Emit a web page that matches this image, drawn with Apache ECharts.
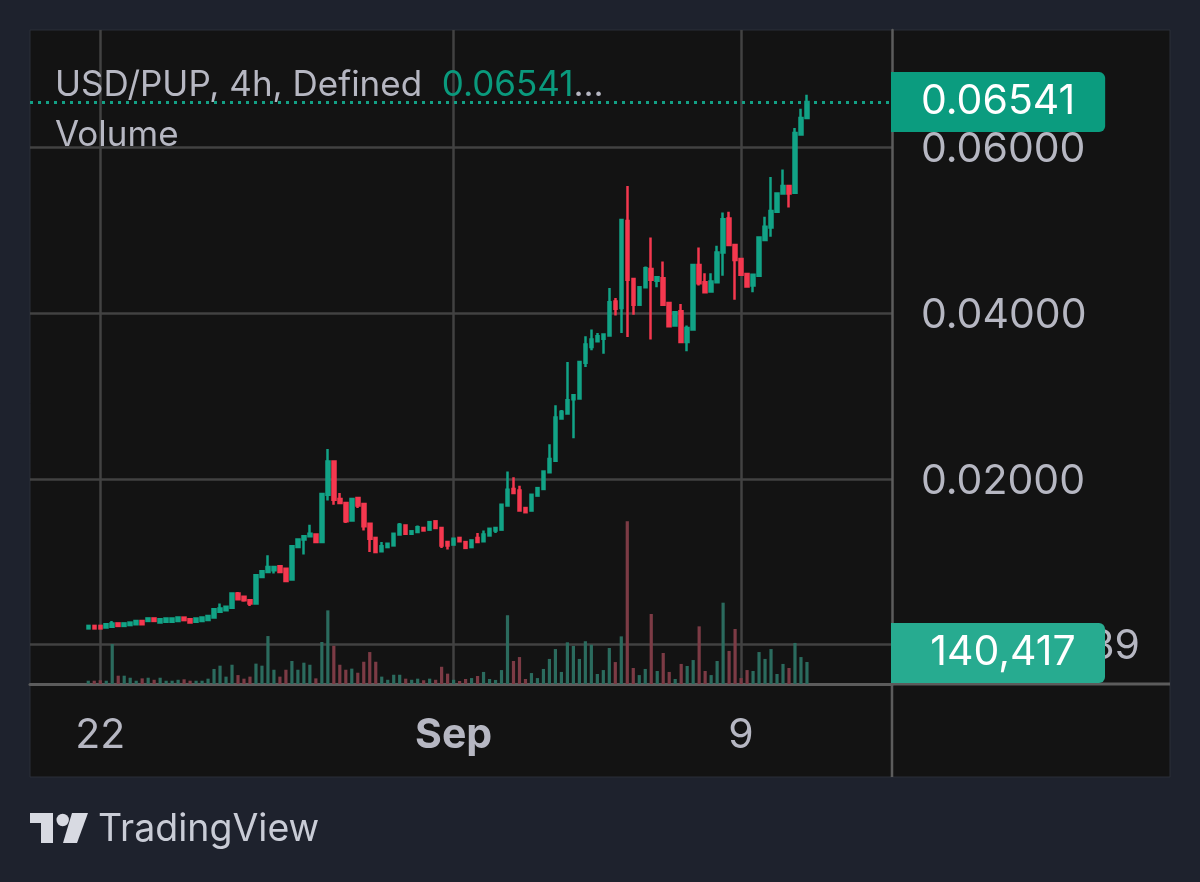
<!DOCTYPE html>
<html>
<head>
<meta charset="utf-8">
<style>
  html, body { margin: 0; padding: 0; background: #1e222d; }
  #chart { width: 1200px; height: 882px; }
</style>
<script src="https://cdn.jsdelivr.net/npm/echarts@6/dist/echarts.min.js"></script>
</head>
<body>
<div id="chart"></div>
<script>
// 4h candles, oldest first
const opens = [
  .0020,.0023,.0023,.0021,.0022,.0026,.0023,.0024,.0025,.0029,
  .0029,.0032,.0027,.0028,.0028,.0029,.0033,.0031,.0028,.0029,
  .0030,.0033,.0040,.0042,.0045,.0062,.0058,.0054,.0050,.0082,
  .0088,.0090,.0095,.0092,.0079,.0118,.0127,.0131,.0133,.0124,
  .0181,.0221,.0176,.0171,.0150,.0177,.0170,.0146,.0129,.0113,
  .0118,.0120,.0133,.0144,.0134,.0136,.0141,.0139,.0149,.0141,
  .0124,.0121,.0129,.0124,.0118,.0129,.0125,.0132,.0138,.0139,
  .0168,.0188,.0186,.0165,.0162,.0180,.0188,.0208,.0222,.0273,
  .0279,.0296,.0297,.0340,.0359,.0366,.0369,.0373,.0414,.0406,
  .0511,.0441,.0410,.0431,.0453,.0439,.0442,.0412,.0385,.0402,
  .0365,.0380,.0458,.0437,.0426,.0437,.0473,.0514,.0482,.0465,
  .0447,.0433,.0445,.0488,.0503,.0522,.0544,.0553,.0545,.0615,
  .0635
];
const closes = [
  .0023,.0020,.0020,.0025,.0026,.0023,.0026,.0027,.0029,.0025,
  .0032,.0029,.0031,.0032,.0032,.0033,.0030,.0027,.0032,.0033,
  .0035,.0043,.0044,.0046,.0062,.0055,.0054,.0050,.0084,.0089,
  .0094,.0094,.0088,.0077,.0119,.0127,.0131,.0134,.0124,.0182,
  .0221,.0175,.0171,.0149,.0176,.0168,.0143,.0128,.0112,.0119,
  .0122,.0134,.0145,.0134,.0137,.0142,.0138,.0148,.0141,.0120,
  .0120,.0128,.0125,.0117,.0126,.0124,.0133,.0140,.0141,.0169,
  .0187,.0183,.0162,.0160,.0181,.0189,.0209,.0224,.0274,.0281,
  .0295,.0301,.0341,.0362,.0368,.0372,.0374,.0413,.0405,.0512,
  .0440,.0410,.0431,.0454,.0440,.0443,.0410,.0384,.0401,.0365,
  .0382,.0458,.0436,.0425,.0438,.0473,.0513,.0482,.0464,.0446,
  .0432,.0446,.0491,.0504,.0523,.0544,.0553,.0544,.0617,.0635,
  .06541
];
const lows = [
  .0020,.0020,.0020,.0021,.0021,.0023,.0023,.0024,.0025,.0025,
  .0029,.0029,.0027,.0028,.0028,.0029,.0030,.0027,.0028,.0029,
  .0030,.0033,.0040,.0042,.0045,.0055,.0052,.0047,.0050,.0082,
  .0088,.0086,.0088,.0077,.0079,.0118,.0109,.0131,.0124,.0124,
  .0174,.0169,.0171,.0147,.0150,.0165,.0138,.0112,.0112,.0113,
  .0118,.0120,.0133,.0134,.0134,.0136,.0138,.0139,.0141,.0117,
  .0115,.0121,.0125,.0117,.0118,.0124,.0125,.0132,.0135,.0139,
  .0168,.0183,.0162,.0160,.0162,.0180,.0188,.0208,.0222,.0273,
  .0279,.0249,.0297,.0335,.0355,.0366,.0351,.0373,.0397,.0376,
  .0371,.0398,.0410,.0431,.0368,.0431,.0410,.0384,.0385,.0365,
  .0354,.0380,.0433,.0425,.0426,.0437,.0445,.0482,.0416,.0446,
  .0432,.0425,.0445,.0488,.0492,.0522,.0544,.0527,.0545,.0615,
  .0635
];
const highs = [
  .0023,.0023,.0023,.0025,.0029,.0026,.0026,.0027,.0029,.0029,
  .0032,.0032,.0031,.0032,.0032,.0033,.0033,.0031,.0032,.0033,
  .0035,.0044,.0050,.0046,.0062,.0064,.0058,.0054,.0084,.0089,
  .0108,.0094,.0095,.0092,.0119,.0127,.0131,.0145,.0133,.0182,
  .0236,.0221,.0183,.0171,.0176,.0177,.0170,.0146,.0129,.0124,
  .0122,.0134,.0147,.0144,.0137,.0144,.0141,.0148,.0149,.0141,
  .0124,.0128,.0129,.0124,.0126,.0135,.0138,.0140,.0141,.0169,
  .0209,.0202,.0192,.0165,.0181,.0189,.0209,.0242,.0289,.0283,
  .0341,.0301,.0341,.0372,.0380,.0376,.0374,.0430,.0418,.0512,
  .0553,.0441,.0431,.0456,.0491,.0443,.0462,.0412,.0401,.0411,
  .0385,.0458,.0479,.0448,.0448,.0481,.0521,.0522,.0482,.0465,
  .0447,.0446,.0491,.0516,.0564,.0544,.0573,.0553,.0623,.0646,
  .0663
];
const volumes = [
  21000,21000,24000,21000,255000,53000,53000,40000,21000,36000,
  40000,27000,40000,21000,21000,27000,30000,21000,21000,21000,
  34000,96000,117000,47000,123000,57000,34000,47000,130000,117000,
  306000,91000,47000,91000,147000,91000,136000,123000,36000,268000,
  470000,244000,123000,91000,98000,72000,142000,204000,142000,47000,
  27000,59000,59000,34000,27000,34000,24000,34000,27000,110000,
  66000,27000,19000,32000,38000,51000,77000,32000,26000,89000,
  439000,147000,172000,32000,70000,38000,96000,160000,223000,77000,
  266000,243000,160000,273000,251000,64000,89000,230000,140000,304000,
  1039000,102000,57000,96000,447000,83000,198000,77000,32000,128000,
  115000,153000,368000,83000,57000,147000,519000,211000,351000,38000,
  89000,83000,204000,160000,223000,64000,128000,102000,262000,172000,
  140417
];

// axis ticks
const priceTicks = [0.02, 0.04, 0.06];
const volumeTicks = [255000];
const volumeTickLabels = ['39'];
const barTicks = [2, 61, 109];
const barTickLabels = ['22', 'Sep', '9'];

const lastPrice = closes[closes.length - 1];
const lastVolume = volumes[volumes.length - 1];

const UP = '#12a386';
const DOWN = '#f4384f';
const UP_VOL = '#2b6b5e';
const DOWN_VOL = '#7c3b45';
const TEXT = '#b6b7c2';
const GRID = '#424242';
const AXIS = '#5c5c5c';
const FONT = 'Inter, "Noto Sans", sans-serif';

// pushes the scale labels down a little off their gridlines
const scaleRich = {
  s: { fontSize: 41, color: TEXT, fontFamily: FONT, padding: [6, 0, 0, 0] }
};

const candles = opens.map((o, i) => [i, o, closes[i], lows[i], highs[i]]);
const volumeBars = volumes.map((v, i) => ({
  value: [i, v],
  itemStyle: { color: closes[i] >= opens[i] ? UP_VOL : DOWN_VOL }
}));

const chart = echarts.init(document.getElementById('chart'));

chart.setOption({
  animation: false,
  backgroundColor: '#1e222d',
  textStyle: { fontFamily: FONT },
  title: [
    {
      left: 55,
      top: 68,
      padding: 0,
      text: 'USD/PUP, 4h, Defined  {g|' + lastPrice.toFixed(5) + '}...',
      textStyle: {
        color: TEXT, fontSize: 35, fontWeight: 'normal', fontFamily: FONT,
        rich: { g: { color: '#0a9a7d', fontSize: 35, fontFamily: FONT } }
      }
    },
    {
      left: 55,
      top: 118,
      padding: 0,
      text: 'Volume',
      textStyle: { color: TEXT, fontSize: 35, fontWeight: 'normal', fontFamily: FONT }
    }
  ],
  grid: { left: 30, top: 30, width: 862, height: 654, containLabel: false },
  xAxis: {
    type: 'value',
    min: -9.73,
    max: 134.2,
    axisLine: { show: true, onZero: false, lineStyle: { color: AXIS, width: 3 } },
    axisTick: { show: false, customValues: barTicks },
    splitLine: { show: true, lineStyle: { color: GRID, width: 2.5 } },
    axisLabel: {
      customValues: barTicks,
      margin: 31,
      fontSize: 41,
      color: TEXT,
      fontFamily: FONT,
      formatter: (v) => {
        const label = barTickLabels[barTicks.indexOf(v)];
        return label === 'Sep' ? '{b|' + label + '}' : label;
      },
      rich: { b: { fontWeight: 'bold', fontSize: 41, color: TEXT, fontFamily: FONT } }
    }
  },
  yAxis: [
    {
      type: 'value',
      position: 'right',
      min: -0.0047,
      max: 0.0741,
      axisLine: { show: true, onZero: false, lineStyle: { color: AXIS, width: 2.5 } },
      axisTick: { show: false, customValues: priceTicks },
      splitLine: { show: true, lineStyle: { color: GRID, width: 2.5 } },
      axisLabel: {
        customValues: priceTicks,
        margin: 29,
        fontSize: 41,
        color: TEXT,
        fontFamily: FONT,
        formatter: (v) => '{s|' + v.toFixed(5) + '}',
        rich: scaleRich
      }
    },
    {
      type: 'value',
      position: 'right',
      min: 0,
      max: 4174500,
      axisLine: { show: false },
      axisTick: { show: false, customValues: volumeTicks },
      splitLine: { show: true, lineStyle: { color: GRID, width: 2.5 } },
      axisLabel: {
        customValues: volumeTicks,
        margin: 248,
        align: 'right',
        fontSize: 41,
        color: TEXT,
        fontFamily: FONT,
        formatter: (v) => '{s|' + volumeTickLabels[volumeTicks.indexOf(v)] + '}',
        rich: scaleRich
      }
    }
  ],
  series: [
    {
      name: 'Volume',
      type: 'bar',
      yAxisIndex: 1,
      barWidth: 3.2,
      z: 2,
      data: volumeBars
    },
    {
      name: 'USD/PUP',
      type: 'candlestick',
      yAxisIndex: 0,
      barWidth: 3,
      z: 3,
      encode: { x: 0, y: [1, 2, 3, 4] },
      itemStyle: {
        color: UP, color0: DOWN,
        borderColor: UP, borderColor0: DOWN,
        borderWidth: 2.5
      },
      data: candles,
      markLine: {
        silent: true,
        symbol: 'none',
        animation: false,
        precision: 5,
        lineStyle: { color: '#13a085', type: [3, 5], width: 3 },
        label: {
          position: 'end',
          distance: -1,
          formatter: (p) => p.value.toFixed(5),
          color: '#ffffff',
          fontSize: 41,
          fontFamily: FONT,
          backgroundColor: '#0b9c7f',
          borderRadius: [0, 6, 6, 0],
          padding: [10, 30, 9, 30]
        },
        data: [{ yAxis: lastPrice }]
      }
    }
  ],
  graphic: [
    // panel behind the chart
    {
      type: 'rect', z: -10, silent: true,
      shape: { x: 30, y: 30, width: 1140, height: 747 },
      style: { fill: '#131313', stroke: '#2a2e39', lineWidth: 1 }
    },
    // price scale and time scale carry on past the plot
    {
      type: 'line', z: 1, silent: true,
      shape: { x1: 892, y1: 684, x2: 892, y2: 777 },
      style: { stroke: AXIS, lineWidth: 2.5 }
    },
    {
      type: 'line', z: 1, silent: true,
      shape: { x1: 892, y1: 684, x2: 1170, y2: 684 },
      style: { stroke: AXIS, lineWidth: 3 }
    },
    // volume label sits clamped inside the pane
    {
      type: 'rect', z: 20, silent: true,
      shape: { x: 891, y: 623, width: 214, height: 60, r: [0, 6, 6, 0] },
      style: { fill: '#27ab90' }
    },
    {
      type: 'text', z: 21, silent: true,
      x: 1003, y: 653,
      style: {
        text: lastVolume.toLocaleString('en-US'),
        fill: '#ffffff', fontSize: 41, fontFamily: FONT,
        align: 'center', verticalAlign: 'middle'
      }
    },
    // TradingView logo
    {
      type: 'polygon', silent: true,
      shape: { points: [[30, 813], [53, 813], [53, 843], [41, 843], [41, 823], [30, 823]] },
      style: { fill: '#d8dae2' }
    },
    {
      type: 'circle', silent: true,
      shape: { cx: 62.7, cy: 820, r: 6.2 },
      style: { fill: '#d8dae2' }
    },
    {
      type: 'polygon', silent: true,
      shape: { points: [[72, 813], [88, 813], [77, 843], [63, 843]] },
      style: { fill: '#d8dae2' }
    },
    {
      type: 'text', silent: true,
      x: 98, y: 829.5,
      style: {
        text: 'TradingView',
        fill: '#c9ccd6', fontSize: 37.5, fontFamily: FONT,
        align: 'left', verticalAlign: 'middle'
      }
    }
  ]
});

window.addEventListener('resize', () => {
  chart.resize();
});
</script>
</body>
</html>
